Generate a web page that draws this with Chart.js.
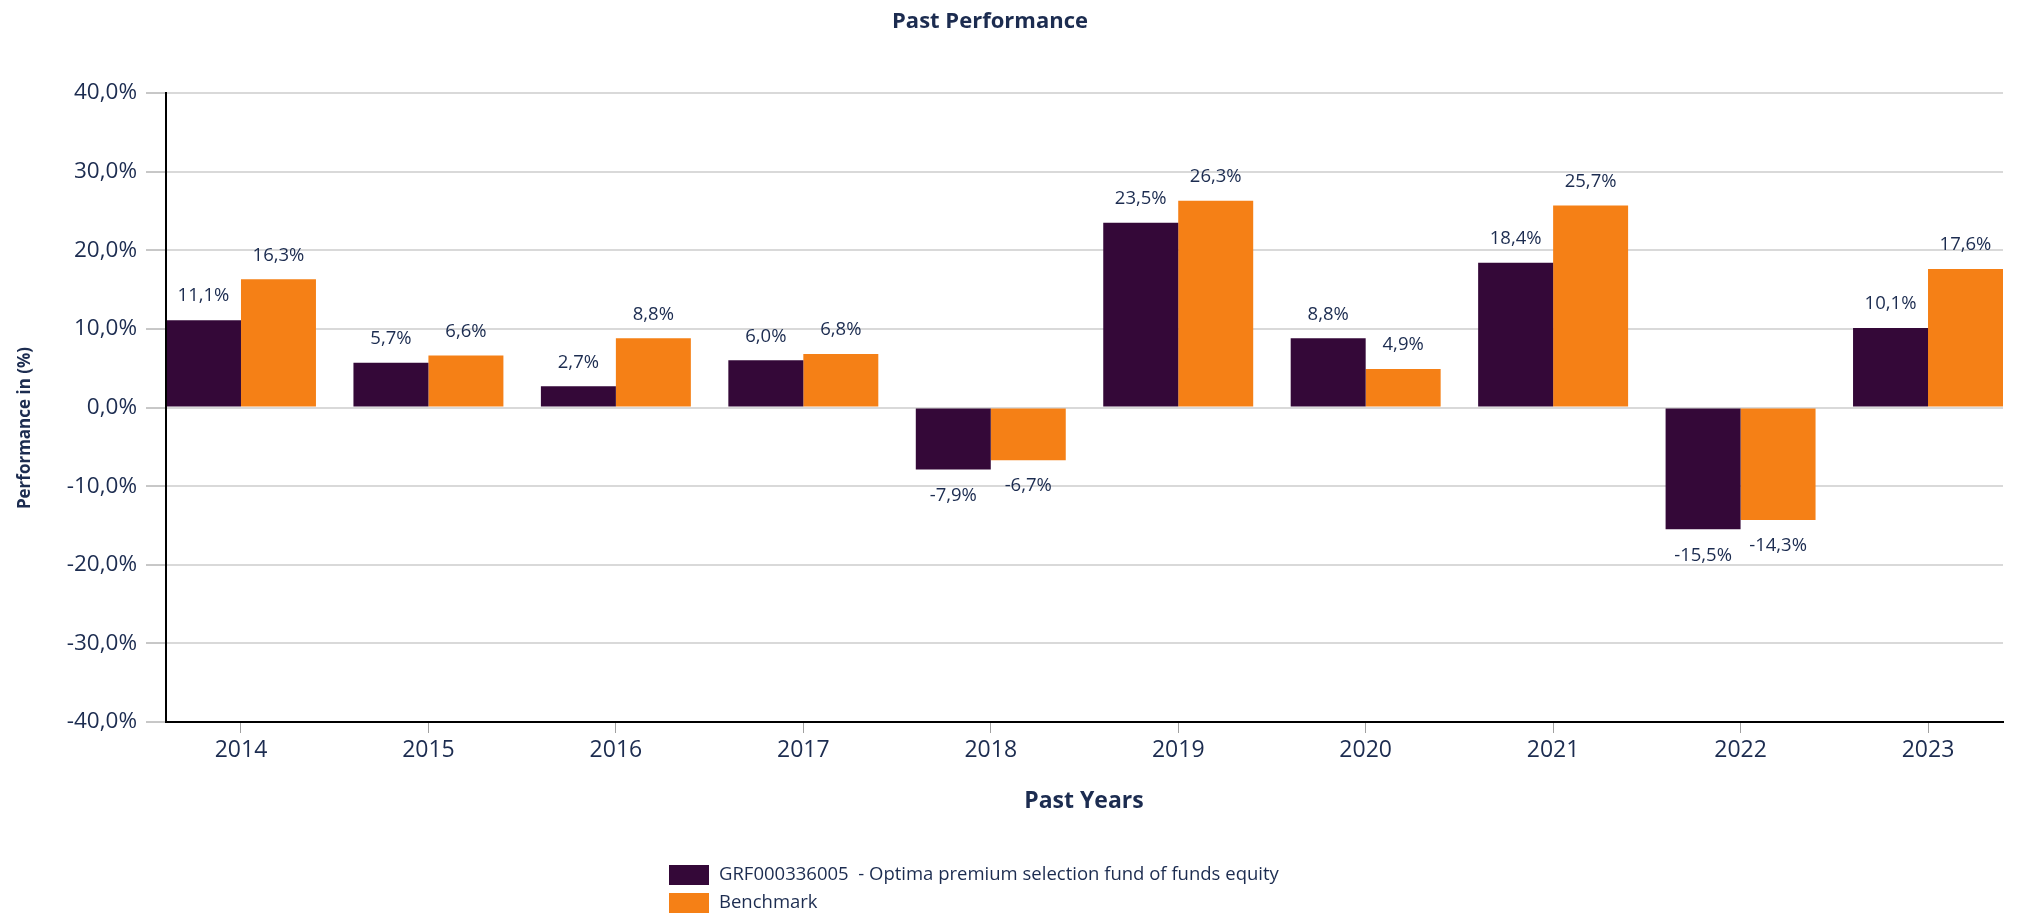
<!DOCTYPE html>
<html>
<head>
<meta charset="utf-8">
<title>Past Performance</title>
<script src="https://cdn.jsdelivr.net/npm/chart.js@4.4.0/dist/chart.umd.min.js"></script>
<style>
  html, body { margin: 0; padding: 0; background: #ffffff; }
  #wrap { position: relative; width: 2017px; height: 913px; }
</style>
</head>
<body>
<div id="wrap"><canvas id="perf_chart"></canvas></div>
<script>
// values
const years = ["2014", "2015", "2016", "2017", "2018", "2019", "2020", "2021", "2022", "2023"];
const fund = [11.1, 5.7, 2.7, 6.0, -7.9, 23.5, 8.8, 18.4, -15.5, 10.1];
const benchmark = [16.3, 6.6, 8.8, 6.8, -6.7, 26.3, 4.9, 25.7, -14.3, 17.6];
const fundLabel = "GRF000336005  - Optima premium selection fund of funds equity";
const benchLabel = "Benchmark";
const yTicks = [-40, -30, -20, -10, 0, 10, 20, 30, 40];

const navy = "#1c2c50";
const purple = "#340838";
const orange = "#f58016";
const font = "'Open Sans', 'DejaVu Sans', sans-serif";

Chart.defaults.font.family = font;
Chart.defaults.color = navy;

function pct(v) {
  return v.toFixed(1).replace(".", ",") + "%";
}

// titles, value labels and legend drawn by hand
const decorations = {
  id: "decorations",
  afterDatasetsDraw(chart) {
    const ctx = chart.ctx;
    const area = chart.chartArea;
    ctx.save();

    // y axis line on top of the first bar
    ctx.strokeStyle = "#000000";
    ctx.lineWidth = 2;
    ctx.beginPath();
    ctx.moveTo(area.left, area.top);
    ctx.lineTo(area.left, area.bottom + 1);
    ctx.stroke();

    // value labels
    ctx.fillStyle = navy;
    ctx.font = "18.5px " + font;
    ctx.textAlign = "center";
    ctx.textBaseline = "middle";
    chart.data.datasets.forEach((ds, di) => {
      const meta = chart.getDatasetMeta(di);
      meta.data.forEach((bar, i) => {
        const v = ds.data[i].y;
        const y = v >= 0 ? bar.y - 24 : bar.y + 26;
        ctx.fillText(pct(v), bar.x, y);
      });
    });
    ctx.restore();
  },
  afterDraw(chart) {
    const ctx = chart.ctx;
    ctx.save();
    ctx.fillStyle = navy;
    ctx.textBaseline = "middle";
    ctx.textAlign = "center";

    ctx.font = "bold 22px " + font;
    ctx.fillText("Past Performance", 990, 22);

    ctx.font = "bold 23px " + font;
    ctx.fillText("Past Years", 1084, 801);

    ctx.save();
    ctx.translate(25, 428);
    ctx.rotate(-Math.PI / 2);
    ctx.font = "bold 17px " + font;
    ctx.fillText("Performance in (%)", 0, 0);
    ctx.restore();

    // legend, one item per row
    ctx.textAlign = "left";
    ctx.font = "18.5px " + font;
    chart.data.datasets.forEach((ds, di) => {
      const top = 865 + di * 28;
      ctx.fillStyle = ds.backgroundColor;
      ctx.fillRect(669, top, 40, 20);
      ctx.fillStyle = navy;
      ctx.fillText(ds.label, 719, top + 10);
    });
    ctx.restore();
  },
};

new Chart(document.getElementById("perf_chart").getContext("2d"), {
  type: "bar",
  data: {
    datasets: [
      {
        label: fundLabel,
        backgroundColor: purple,
        borderWidth: 0,
        data: fund.map((v, i) => ({ x: i, y: v })),
      },
      {
        label: benchLabel,
        backgroundColor: orange,
        borderWidth: 0,
        data: benchmark.map((v, i) => ({ x: i, y: v })),
      },
    ],
  },
  options: {
    responsive: true,
    maintainAspectRatio: false,
    animation: false,
    categoryPercentage: 0.8,
    barPercentage: 1.0,
    layout: { padding: { left: 0, top: 93, right: 14, bottom: 131 } },
    plugins: {
      legend: { display: false },
      title: { display: false },
      tooltip: { enabled: false },
    },
    scales: {
      x: {
        type: "linear",
        min: -0.4,
        max: 9.4,
        offset: false,
        afterBuildTicks: (scale) => {
          scale.ticks = years.map((y, i) => ({ value: i }));
        },
        afterFit: (scale) => {
          scale.height = 60;
        },
        ticks: {
          autoSkip: false,
          maxRotation: 0,
          padding: 4,
          color: navy,
          font: { size: 23 },
          callback: (value) => years[value],
        },
        grid: {
          offset: false,
          drawOnChartArea: false,
          drawTicks: true,
          tickLength: 11,
          tickColor: "#a0a0a0",
          tickWidth: 1,
        },
        border: { display: true, color: "#000000", width: 2 },
      },
      y: {
        min: -40,
        max: 40,
        afterBuildTicks: (scale) => {
          scale.ticks = yTicks.map((v) => ({ value: v }));
        },
        afterFit: (scale) => {
          scale.width = 166;
        },
        ticks: {
          padding: 9,
          color: navy,
          font: { size: 22.5 },
          callback: (value) => pct(value),
        },
        grid: {
          color: "#d9d9d9",
          lineWidth: 2,
          tickLength: 20,
          tickColor: "#909090",
          tickWidth: 1,
        },
        border: { display: true, color: "#000000", width: 2 },
      },
    },
  },
  plugins: [decorations],
});
</script>
</body>
</html>
